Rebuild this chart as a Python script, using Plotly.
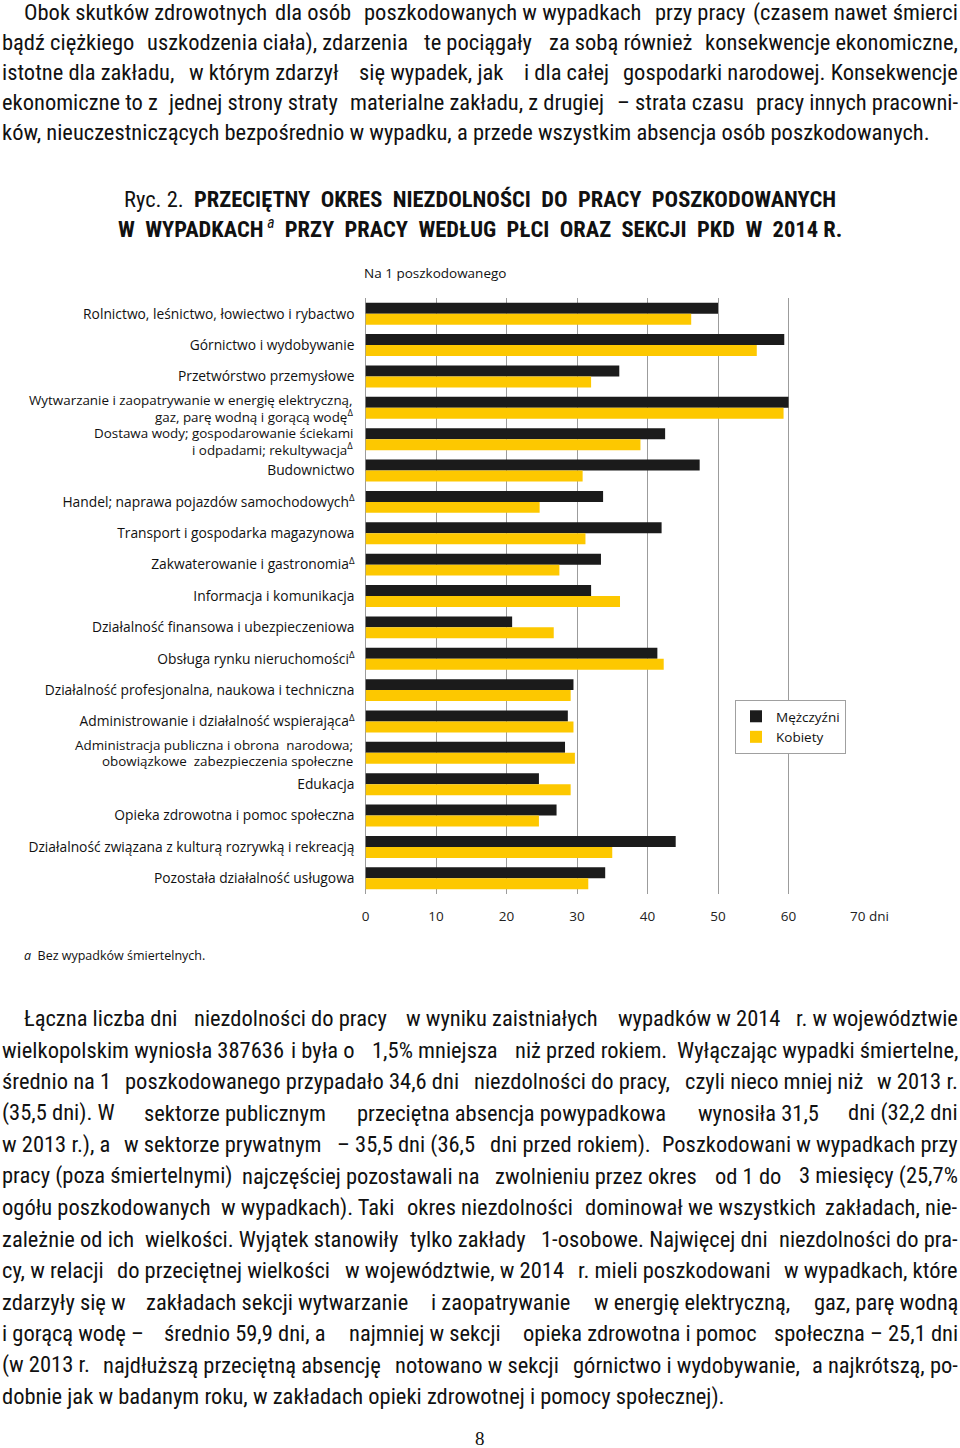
import plotly.graph_objects as go

W, H = 960, 1448

cat_keys = [
    "Rolnictwo, leśnictwo, łowiectwo i rybactwo",
    "Górnictwo i wydobywanie",
    "Przetwórstwo przemysłowe",
    "Wytwarzanie i zaopatrywanie w energię elektryczną, gaz, parę wodną i gorącą wodę",
    "Dostawa wody; gospodarowanie ściekami i odpadami; rekultywacja",
    "Budownictwo",
    "Handel; naprawa pojazdów samochodowych",
    "Transport i gospodarka magazynowa",
    "Zakwaterowanie i gastronomia",
    "Informacja i komunikacja",
    "Działalność finansowa i ubezpieczeniowa",
    "Obsługa rynku nieruchomości",
    "Działalność profesjonalna, naukowa i techniczna",
    "Administrowanie i działalność wspierająca",
    "Administracja publiczna i obrona narodowa; obowiązkowe zabezpieczenia społeczne",
    "Edukacja",
    "Opieka zdrowotna i pomoc społeczna",
    "Działalność związana z kulturą rozrywką i rekreacją",
    "Pozostała działalność usługowa",
]
# label lines as printed (Δ marks sections with few cases)
cat_labels = [
    ["Rolnictwo, leśnictwo, łowiectwo i rybactwo"],
    ["Górnictwo i wydobywanie"],
    ["Przetwórstwo przemysłowe"],
    ["Wytwarzanie i zaopatrywanie w energię elektryczną,", "gaz, parę wodną i gorącą wodę<sup>Δ</sup>"],
    ["Dostawa wody; gospodarowanie ściekami", "i odpadami; rekultywacja<sup>Δ</sup>"],
    ["Budownictwo"],
    ["Handel; naprawa pojazdów samochodowych<sup>Δ</sup>"],
    ["Transport i gospodarka magazynowa"],
    ["Zakwaterowanie i gastronomia<sup>Δ</sup>"],
    ["Informacja i komunikacja"],
    ["Działalność finansowa i ubezpieczeniowa"],
    ["Obsługa rynku nieruchomości<sup>Δ</sup>"],
    ["Działalność profesjonalna, naukowa i techniczna"],
    ["Administrowanie i działalność wspierająca<sup>Δ</sup>"],
    ["Administracja publiczna i obrona\u00a0 narodowa;", "obowiązkowe\u00a0 zabezpieczenia społeczne"],
    ["Edukacja"],
    ["Opieka zdrowotna i pomoc społeczna"],
    ["Działalność związana z kulturą rozrywką i rekreacją"],
    ["Pozostała działalność usługowa"],
]
# vertical offsets (px) of the two lines of wrapped labels, relative to the category centre
wrap_shifts = {3: (7.8, -8.2), 4: (6.0, -10.0), 14: (7.6, -8.0)}

men = [50.0, 59.4, 36.0, 60.0, 42.5, 47.4, 33.7, 42.0, 33.4, 32.0,
       20.8, 41.4, 29.5, 28.7, 28.3, 24.6, 27.1, 44.0, 34.0]
women = [46.2, 55.5, 32.0, 59.3, 39.0, 30.8, 24.7, 31.2, 27.5, 36.1,
         26.7, 42.3, 29.1, 29.5, 29.7, 29.1, 24.6, 35.0, 31.6]
series_names = ["Mężczyźni", "Kobiety"]
tick_vals = [0, 10, 20, 30, 40, 50, 60, 70]
tick_text = ["0", "10", "20", "30", "40", "50", "60", "\u00a0" * 6 + "70 dni"]

para1 = [
    "Obok skutków zdrowotnych dla osób poszkodowanych w wypadkach przy pracy (czasem nawet śmierci",
    "bądź ciężkiego uszkodzenia ciała), zdarzenia te pociągały za sobą również konsekwencje ekonomiczne,",
    "istotne dla zakładu, w którym zdarzył się wypadek, jak i dla całej gospodarki narodowej. Konsekwencje",
    "ekonomiczne to z jednej strony straty materialne zakładu, z drugiej – strata czasu pracy innych pracowni-",
    "ków, nieuczestniczących bezpośrednio w wypadku, a przede wszystkim absencja osób poszkodowanych.",
]
para2 = [
    "Łączna liczba dni niezdolności do pracy w wyniku zaistniałych wypadków w 2014 r. w województwie",
    "wielkopolskim wyniosła 387636 i była o 1,5% mniejsza niż przed rokiem. Wyłączając wypadki śmiertelne,",
    "średnio na 1 poszkodowanego przypadało 34,6 dni niezdolności do pracy, czyli nieco mniej niż w 2013 r.",
    "(35,5 dni). W sektorze publicznym przeciętna absencja powypadkowa wynosiła 31,5 dni (32,2 dni",
    "w 2013 r.), a w sektorze prywatnym – 35,5 dni (36,5 dni przed rokiem). Poszkodowani w wypadkach przy",
    "pracy (poza śmiertelnymi) najczęściej pozostawali na zwolnieniu przez okres od 1 do 3 miesięcy (25,7%",
    "ogółu poszkodowanych w wypadkach). Taki okres niezdolności dominował we wszystkich zakładach, nie-",
    "zależnie od ich wielkości. Wyjątek stanowiły tylko zakłady 1-osobowe. Najwięcej dni niezdolności do pra-",
    "cy, w relacji do przeciętnej wielkości w województwie, w 2014 r. mieli poszkodowani w wypadkach, które",
    "zdarzyły się w zakładach sekcji wytwarzanie i zaopatrywanie w energię elektryczną, gaz, parę wodną",
    "i gorącą wodę – średnio 59,9 dni, a najmniej w sekcji opieka zdrowotna i pomoc społeczna – 25,1 dni",
    "(w 2013 r. najdłuższą przeciętną absencję notowano w sekcji górnictwo i wydobywanie, a najkrótszą, po-",
    "dobnie jak w badanym roku, w zakładach opieki zdrowotnej i pomocy społecznej).",
]

BLACK = "#1b1b1b"
YELLOW = "#FDC800"
GRID = "#9c9c9c"
BODY_FONT = "Liberation Sans Narrow, Roboto Condensed, Roboto"
CHART_FONT = "Open Sans"

# rough glyph advance widths (per 1000 em) used only to space justified text chunks
_WID = {}
for chs, w in [(" ", 278), ("abdeghnopqu0123456789ąęńóĄ–", 556), ("ckstvxyzśćźżĆŚŹŻ", 500),
               ("fijltłI.,;:", 222), ("r()-", 333), ("m", 833), ("w", 722), ("%", 889),
               ("ABEKPSVXYŁ", 667), ("CDHNRUW", 722), ("FTZ", 611), ("GOQ", 778), ("J", 500),
               ("LŁ", 556), ("M", 833)]:
    for c in chs:
        _WID[c] = w
_WID["f"] = 278
_WID["t"] = 278
_WID["W"] = 944
NARROW = 0.875


def est_width(s, size):
    return sum(_WID.get(c, 556) for c in s) / 1000 * size * NARROW


def px(x):
    return x / W


def py(y):
    return 1 - y / H


fig = go.Figure()
fig.add_trace(go.Bar(y=cat_keys, x=men, name=series_names[0], orientation="h",
                     marker=dict(color=BLACK, line=dict(width=0))))
fig.add_trace(go.Bar(y=cat_keys, x=women, name=series_names[1], orientation="h",
                     marker=dict(color=YELLOW, line=dict(width=0))))

annotations = []


def add_text(text, x, y, size, family=BODY_FONT, anchor="left", color="#111"):
    annotations.append(dict(text=text, x=px(x), y=py(y), xref="paper", yref="paper",
                            xanchor=anchor, yanchor="middle", showarrow=False,
                            font=dict(size=size, family=family, color=color)))


def add_justified(line, y, x0, x1, size, justify=True, nchunks=5):
    if not justify:
        add_text(line, x0, y, size)
        return
    words = line.split(" ")
    n = len(words)
    k = min(nchunks, n)
    bounds = [round(i * n / k) for i in range(k + 1)]
    chunks = [" ".join(words[bounds[i]:bounds[i + 1]]) for i in range(k)]
    widths = [est_width(c, size) for c in chunks]
    gap = (x1 - x0 - sum(widths)) / (k - 1)
    left = x0
    for i, ch in enumerate(chunks):
        if i == 0:
            add_text(ch, x0, y, size, anchor="left")
        elif i == k - 1:
            add_text(ch, x1, y, size, anchor="right")
        else:
            add_text(ch, left + widths[i] / 2, y, size, anchor="center")
        left += widths[i] + gap


BODY_SIZE = 22.5
p1_y = [12.5, 42.2, 72.2, 102.2, 132.2]
for i, (line, y) in enumerate(zip(para1, p1_y)):
    x0 = 22 if i == 0 else 0
    add_justified(line, y, x0, 960, BODY_SIZE, justify=(i < len(para1) - 1))

p2_y0 = 1018
p2_step = 31.5
for i, line in enumerate(para2):
    y = p2_y0 + i * p2_step
    x0 = 22 if i == 0 else 0
    add_justified(line, y, x0, 960, BODY_SIZE, justify=(i < len(para2) - 1))

# Title
TITLE_FONT = "Liberation Sans Narrow, Roboto Condensed, Roboto"
nb = "\u00a0"
t1 = ("Ryc. 2." + nb + " <b>PRZECIĘTNY" + nb * 2 + "OKRES" + nb * 2 + "NIEZDOLNOŚCI" + nb * 2 + "DO"
      + nb * 2 + "PRACY" + nb * 2 + "POSZKODOWANYCH</b>")
t2 = ("<b>W" + nb * 2 + "WYPADKACH</b><sup><i>" + nb + "a</i></sup>" + nb * 2 + "<b>PRZY" + nb * 2 + "PRACY" + nb * 2
      + "WEDŁUG" + nb * 2 + "PŁCI" + nb * 2 + "ORAZ" + nb * 2 + "SEKCJI" + nb * 2 + "PKD" + nb * 2 + "W"
      + nb * 2 + "2014" + nb + "R.</b>")
add_text(t1, 480, 199, 22.5, family=TITLE_FONT, anchor="center")
add_text(t2, 480, 228, 22.5, family=TITLE_FONT, anchor="center")

add_text("Na 1 poszkodowanego", 435, 273, 13.5, family=CHART_FONT, anchor="center")
add_text("<i>a</i>" + nb * 2 + "Bez wypadków śmiertelnych.", 22, 955, 12.5, family=CHART_FONT, anchor="left")
add_text("8", 480, 1438, 19, family="Liberation Serif, DejaVu Serif", anchor="center")

# multi-line category labels drawn as annotations tied to the category axis
LABEL_SIZE = 13.8
WRAP_SIZE = 13.4
tick_labels = []
for idx, (key, lines) in enumerate(zip(cat_keys, cat_labels)):
    if len(lines) == 1:
        tick_labels.append(lines[0])
    else:
        tick_labels.append("")
        shifts = wrap_shifts.get(idx, (7.5, -7.5))
        for j, ln in enumerate(lines):
            annotations.append(dict(text=ln, x=px(355), y=key, xref="paper", yref="y",
                                    xanchor="right", yanchor="middle", showarrow=False,
                                    yshift=shifts[j],
                                    font=dict(size=WRAP_SIZE, family=CHART_FONT, color="#111")))

x_left, x_right = 365.5, 859
y_top, y_bottom = 298, 894

fig.update_layout(
    width=W, height=H,
    margin=dict(l=0, r=0, t=0, b=0),
    paper_bgcolor="white", plot_bgcolor="white",
    font=dict(family=CHART_FONT, size=13, color="#111"),
    barmode="group", bargap=0.3, bargroupgap=0,
    showlegend=True,
    legend=dict(x=px(735), y=py(700), xanchor="left", yanchor="top",
                bgcolor="white", bordercolor="#a0a0a0", borderwidth=1,
                font=dict(size=13.5, family=CHART_FONT, color="#111"),
                traceorder="normal", itemwidth=30, tracegroupgap=0),
    xaxis=dict(domain=[px(x_left), px(x_right)], range=[0, 70],
               tickvals=tick_vals, ticktext=tick_text, showgrid=True,
               gridcolor=GRID, gridwidth=1, zeroline=True, zerolinecolor=GRID,
               zerolinewidth=1, showline=False, ticks="", ticklabelstandoff=12,
               tickfont=dict(size=13.5, color="#222"), automargin=False, fixedrange=True),
    yaxis=dict(domain=[py(y_bottom), py(y_top)], autorange="reversed",
               type="category", tickvals=cat_keys, ticktext=tick_labels,
               showgrid=False, zeroline=False, showline=False,
               ticks="", ticklabelstandoff=10,
               tickfont=dict(size=LABEL_SIZE, color="#111"), automargin=False, fixedrange=True),
    annotations=annotations,
)

fig.write_html(
    "out.html",
    config={"displayModeBar": False, "staticPlot": True},
    post_script="document.body.style.margin='0';document.body.style.padding='0';"
                "document.body.style.overflow='hidden';"
                "document.documentElement.style.overflow='hidden';",
)
